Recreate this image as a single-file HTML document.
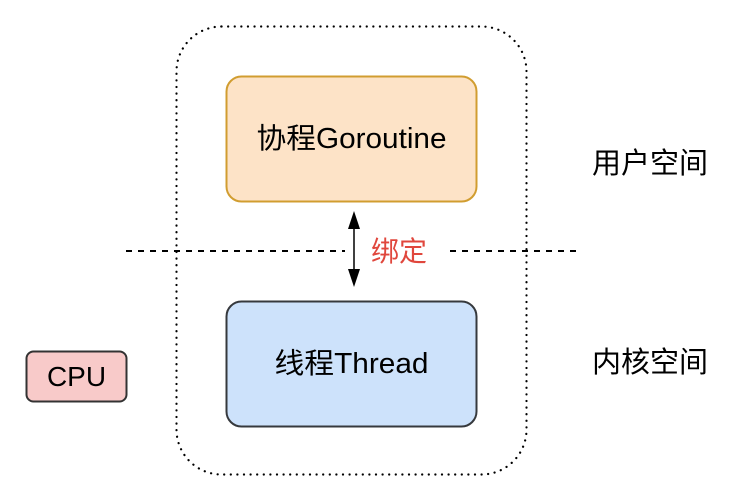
<!DOCTYPE html>
<html><head><meta charset="utf-8"><style>
body{margin:0;background:#fff;}
svg{display:block}
text{font-family:"Liberation Sans","Noto Sans CJK SC",sans-serif;}
</style></head><body>
<svg width="734" height="504" viewBox="0 0 734 504" xmlns="http://www.w3.org/2000/svg">
<rect x="176.5" y="26.5" width="350" height="448" rx="45" fill="none" stroke="#000" stroke-width="2.2" stroke-dasharray="0.1 6.5" stroke-linecap="round"/>
<line x1="126" y1="251" x2="345" y2="251" stroke="#000" stroke-width="2" stroke-dasharray="6 6"/>
<line x1="450" y1="251" x2="578" y2="251" stroke="#000" stroke-width="2" stroke-dasharray="6 6"/>
<rect x="226.5" y="76.5" width="250" height="125" rx="15" fill="#fde3c7" stroke="#d19d30" stroke-width="2"/>
<text x="351.5" y="148" font-size="28.5" text-anchor="middle" fill="#000" textLength="190" lengthAdjust="spacingAndGlyphs">协程Goroutine</text>
<rect x="226.5" y="301.5" width="250" height="125" rx="15" fill="#cde2fb" stroke="#36393d" stroke-width="2"/>
<text x="351.5" y="373" font-size="28.5" text-anchor="middle" fill="#000" textLength="154" lengthAdjust="spacingAndGlyphs">线程Thread</text>
<rect x="26.5" y="351.5" width="100" height="50" rx="7" fill="#f8cac9" stroke="#333" stroke-width="2"/>
<text x="76.5" y="386" font-size="28" text-anchor="middle" fill="#000">CPU</text>
<line x1="354" y1="222" x2="354" y2="276" stroke="#000" stroke-width="1.5"/>
<polygon points="354,211 348,229 360,229" fill="#000"/>
<polygon points="354,287 348,269 360,269" fill="#000"/>
<text x="371" y="261" font-size="28" fill="#e0473d">绑定</text>
<text x="592" y="173" font-size="29" fill="#000">用户空间</text>
<text x="592" y="372" font-size="29" fill="#000">内核空间</text>
</svg>
</body></html>
